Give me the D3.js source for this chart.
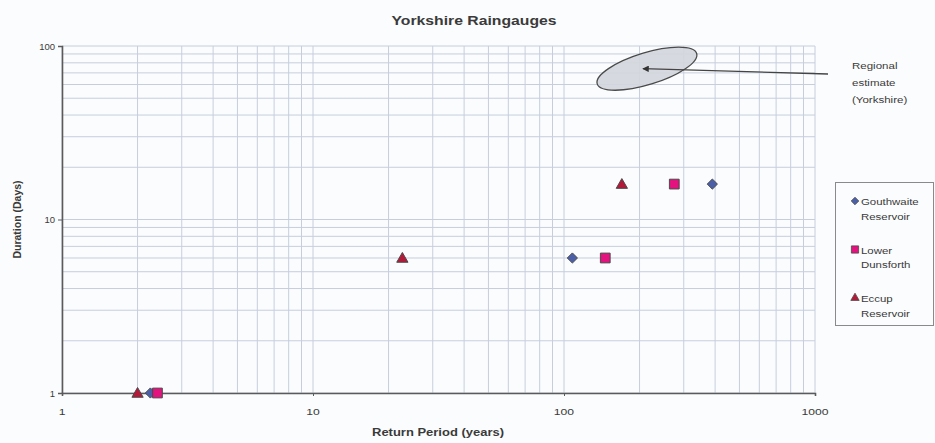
<!DOCTYPE html>
<html>
<head>
<meta charset="utf-8">
<script src="https://cdn.jsdelivr.net/npm/d3@7"></script>
<style>
  html, body { margin: 0; padding: 0; background: #fbfcfd; }
  svg { display: block; font-family: "Liberation Sans", Arial, sans-serif; }
</style>
</head>
<body>
<svg id="chart" width="935" height="443"></svg>
<script>
// Return period (years) and duration (days) for each raingauge
const gouthwaiteX = [2.25, 108, 390];
const gouthwaiteY = [1, 6, 16];
const dunsforthX = [2.4, 146, 275];
const dunsforthY = [1, 6, 16];
const eccupX = [2.0, 22.7, 170];
const eccupY = [1, 6, 16];

const seriesNames = [["Gouthwaite", "Reservoir"], ["Lower", "Dunsforth"], ["Eccup", "Reservoir"]];
const xTicks = [1, 10, 100, 1000];
const yTicks = [1, 10, 100];

// Regional estimate region (centre in data units)
const regionalCentre = [214, 74];
const regionalLabel = ["Regional", "estimate", "(Yorkshire)"];

const svg = d3.select("#chart");
const x = d3.scaleLog().domain([1, 1000]).range([62, 815]);
const y = d3.scaleLog().domain([1, 100]).range([393, 46]);

const gridColor = "#c6cede";
const axisColor = "#5a5a5a";
const textColor = "#3a3a3a";
const sx = 1.28; // wide lettering

// Text helper: places a horizontally widened label at (px, py)
function label(parent, px, py, txt, size, opts = {}) {
  const t = parent.append("text")
    .attr("transform", `translate(${px},${py}) scale(${opts.sx || sx},1)`)
    .attr("font-size", size).attr("fill", textColor)
    .attr("text-anchor", opts.anchor || "start")
    .text(txt);
  if (opts.bold) t.attr("font-weight", "bold");
  return t;
}

// Grid lines at every 1..9 multiple within each decade
const gridVals = (lo, hi) => {
  const out = [];
  for (let d = lo; d < hi; d *= 10) for (let m = 1; m <= 10; m++) out.push(d * m);
  return Array.from(new Set(out));
};
const grid = svg.append("g");
grid.selectAll("line.v").data(gridVals(1, 1000)).join("line")
  .attr("x1", d => x(d)).attr("x2", d => x(d))
  .attr("y1", y(100)).attr("y2", y(1))
  .attr("stroke", gridColor).attr("stroke-width", 1);
grid.selectAll("line.h").data(gridVals(1, 100)).join("line")
  .attr("y1", d => y(d)).attr("y2", d => y(d))
  .attr("x1", x(1)).attr("x2", x(1000))
  .attr("stroke", gridColor).attr("stroke-width", 1);

// Axes
const xAxis = d3.axisBottom(x).tickValues(xTicks).tickFormat("").tickSize(3);
const yAxis = d3.axisLeft(y).tickValues(yTicks).tickFormat(d3.format("d")).tickSize(4).tickPadding(3);
const gx = svg.append("g").attr("transform", `translate(0,${y(1)})`).call(xAxis);
const gy = svg.append("g").attr("transform", `translate(${x(1)},0)`).call(yAxis);
[gx, gy].forEach(g => {
  g.select(".domain").attr("stroke", axisColor).attr("stroke-width", 1.6);
  g.selectAll(".tick line").attr("stroke", axisColor);
});
gy.selectAll(".tick text").attr("fill", textColor).attr("font-size", 9.5)
  .attr("font-family", "Liberation Sans, Arial, sans-serif");
// x tick labels, widened like the rest of the lettering
const xLab = svg.append("g");
xTicks.forEach(v => label(xLab, x(v), 415, d3.format("d")(v), 9, { anchor: "middle", sx: 1.35 }));

// Titles
label(svg, 474, 25, "Yorkshire Raingauges", 12.5, { anchor: "middle", bold: true, sx: 1.26 });
label(svg, 438, 436, "Return Period (years)", 10, { anchor: "middle", bold: true, sx: 1.3 });
svg.append("text").attr("transform", `translate(21,${y(10)}) rotate(-90)`)
  .attr("text-anchor", "middle").attr("font-size", 10.5).attr("font-weight", "bold").attr("fill", textColor)
  .text("Duration (Days)");

// Regional estimate ellipse and arrow
const cx = x(regionalCentre[0]), cy = y(regionalCentre[1]);
svg.append("ellipse").attr("cx", cx).attr("cy", cy).attr("rx", 52).attr("ry", 16)
  .attr("transform", `rotate(-17,${cx},${cy})`)
  .attr("fill", "#d3d6dc").attr("fill-opacity", 0.92)
  .attr("stroke", "#4a4a4a").attr("stroke-width", 1.3);
svg.append("defs").append("marker").attr("id", "arrow")
  .attr("viewBox", "0 0 10 10").attr("refX", 9).attr("refY", 5)
  .attr("markerWidth", 6).attr("markerHeight", 5).attr("orient", "auto")
  .append("path").attr("d", "M0,0L10,5L0,10Z").attr("fill", "#333");
svg.append("line").attr("x1", 828).attr("y1", 74).attr("x2", cx - 4).attr("y2", cy)
  .attr("stroke", "#444").attr("stroke-width", 1.3).attr("marker-end", "url(#arrow)");
const rl = svg.append("g");
regionalLabel.forEach((t, i) => label(rl, 852, 69 + i * 17, t, 9));

// Diamond drawn as a square turned 45 degrees
const diamond = {
  draw(ctx, size) {
    const r = Math.sqrt(size / 2);
    ctx.moveTo(0, -r); ctx.lineTo(r, 0); ctx.lineTo(0, r); ctx.lineTo(-r, 0); ctx.closePath();
  }
};

// Markers
const series = [
  { xs: gouthwaiteX, ys: gouthwaiteY, shape: diamond, size: 52, fill: "#4b5fa8" },
  { xs: dunsforthX, ys: dunsforthY, shape: d3.symbolSquare, size: 95, fill: "#e3127f" },
  { xs: eccupX, ys: eccupY, shape: d3.symbolTriangle, size: 55, fill: "#b5193a" }
];
const markerG = svg.append("g");
series.forEach(s => {
  markerG.append("g").selectAll("path").data(s.xs.map((v, i) => [v, s.ys[i]])).join("path")
    .attr("transform", d => `translate(${x(d[0])},${y(d[1]) + (s.shape === d3.symbolTriangle ? 1 : 0)})`)
    .attr("d", d3.symbol(s.shape, s.size))
    .attr("fill", s.fill).attr("stroke", "#4a4a4a").attr("stroke-width", 1);
});

// Legend
const lg = svg.append("g");
lg.append("rect").attr("x", 835.5).attr("y", 182.5).attr("width", 98).attr("height", 143)
  .attr("fill", "#fbfcfd").attr("stroke", "#8a8a8a").attr("stroke-width", 1);
series.forEach((s, i) => {
  const base = 205 + i * 48.5;
  lg.append("path").attr("transform", `translate(855,${base - 4})`)
    .attr("d", d3.symbol(s.shape, s.size * 0.55))
    .attr("fill", s.fill).attr("stroke", "#4a4a4a").attr("stroke-width", 0.8);
  seriesNames[i].forEach((t, j) => label(lg, 861, base + j * 14.5, t, 9, { sx: 1.27 }));
});
</script>
</body>
</html>
